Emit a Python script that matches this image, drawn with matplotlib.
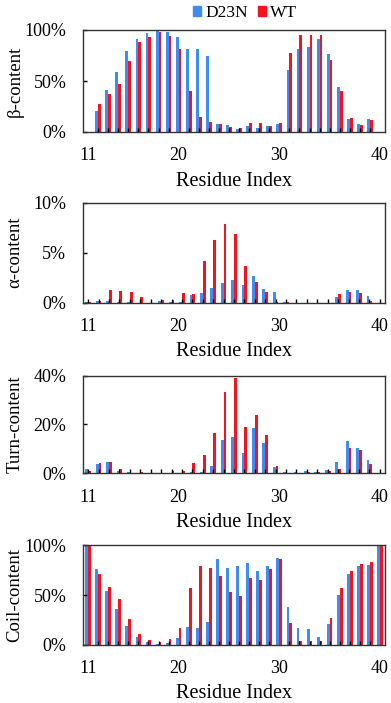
import matplotlib
matplotlib.use('Agg')
import matplotlib.pyplot as plt
import numpy as np
from matplotlib.patches import Patch

plt.rcParams['font.family'] = ['Liberation Serif', 'DejaVu Serif']

# residues 11-40 (beta, coil)
residues = list(range(11, 41))
beta_d23n = [0, 21, 41, 59, 79, 91, 97, 99, 98, 93, 81, 81, 75, 8, 7, 3, 6, 4, 6, 8,
             61, 81, 83, 91, 76, 44, 13, 8, 13, 0]
beta_wt = [0, 27, 37, 47, 70, 88, 93, 98, 94, 81, 40, 15, 10, 8, 5, 4, 9, 9, 6, 9,
           77, 95, 95, 95, 71, 40, 14, 7, 12, 0]
coil_d23n = [100, 75.8, 53.7, 35.6, 19.1, 7.4, 2.3, 0.3, 2.0, 6.4, 17.8, 16.4, 22.5, 86.6, 77.2,
             78.9, 82.6, 74.2, 79.2, 87.6, 37.6, 17.1, 15.8, 7.4, 21.1, 50.3, 71.5, 79.2, 80.5, 100]
coil_wt = [100, 70.8, 57.7, 46.3, 25.5, 10.4, 5.0, 2.7, 5.4, 16.8, 56.7, 79.2, 77.5, 68.8, 53.0,
           49.0, 67.1, 64.8, 75.8, 86.6, 22.1, 3.4, 3.4, 3.4, 26.8, 57.0, 74.2, 81.5, 83.2, 100]

# residues 12-40 (alpha, turn) - one residue fewer on these charts
residues_short = list(range(12, 41))
alpha_d23n = [0.07, 0.17, 0.17, 0.1, 0.07, 0, 0, 0.2, 0.1, 0.07, 0.77, 0.97, 1.44, 1.91, 2.28,
              1.78, 2.68, 1.34, 1.1, 0.05, 0, 0, 0, 0, 0.57, 1.28, 1.28, 0.7, 0]
alpha_wt = [0.03, 0.17, 1.28, 1.2, 1.04, 0.54, 0, 0.3, 0.3, 0.94, 0.84, 4.16, 6.24, 7.92, 6.85,
            3.62, 2.11, 1.07, 0.07, 0.1, 0, 0, 0, 0, 0.84, 1.07, 1.0, 0.17, 0]
turn_d23n = [1.76, 3.66, 4.47, 1.08, 0.5, 0.2, 0, 0, 0.1, 0.2, 0.4, 0.68, 2.85, 13.6, 14.9,
             8.5, 18.7, 12.5, 2.7, 0.68, 0.68, 0.95, 0.68, 1.2, 4.7, 13.3, 10.4, 5.4, 0]
turn_wt = [1.08, 4.34, 4.75, 1.9, 0.3, 0.68, 0, 0, 0.9, 1.0, 4.07, 7.46, 16.5, 33.2, 38.9,
           19.0, 23.7, 15.6, 3.0, 0, 0.27, 0.4, 0.68, 0.95, 1.8, 10.2, 9.5, 3.9, 0]

xtick_labels = ['11', '20', '30', '40']
xtick_slots = [0, 9, 19, 29]  # slots on the 30-residue axis

blue = '#3d8ef0'
red = '#f2141e'

W, H = 391, 703
fig = plt.figure(figsize=(W / 100, H / 100), dpi=100)

# (top, bottom) of each plot area in pixels
boxes = [(30, 132), (203, 302.5), (375.7, 473.3), (545.3, 644.7)]
left, right = 83, 385

panels = [
    (beta_d23n, beta_wt, 100, [0, 50, 100], u'\u03b2-content'),
    (alpha_d23n, alpha_wt, 10, [0, 5, 10], u'\u03b1-content'),
    (turn_d23n, turn_wt, 40, [0, 20, 40], 'Turn-content'),
    (coil_d23n, coil_wt, 100, [0, 50, 100], 'Coil-content'),
]

for (top, bot), (d23n, wt, ymax, yt, ylab) in zip(boxes, panels):
    ax = fig.add_axes([left / W, 1 - bot / H, (right - left) / W, (bot - top) / H])
    n = len(d23n)
    x = np.arange(n)
    bw = 0.28 * n / 30
    ax.bar(x - bw / 2, d23n, bw, color=blue, linewidth=0)
    ax.bar(x + bw / 2, wt, bw, color=red, linewidth=0)
    ax.set_xlim(-0.5, n - 0.5)
    ax.set_ylim(0, ymax)

    # labels sit at the same pixel spots on every panel
    pos = [(k + 0.5) * n / 30 - 0.5 for k in xtick_slots]
    ax.set_xticks(pos)
    ax.set_xticklabels(xtick_labels, fontsize=13)
    ax.set_xticks(x, minor=True)
    ax.tick_params(axis='x', which='major', length=0, pad=11)
    ax.tick_params(axis='x', which='minor', direction='in', length=3, width=1, color='black')

    ax.set_yticks(yt)
    ax.set_yticklabels(['%d%%' % v for v in yt], fontsize=13)
    ax.tick_params(axis='y', direction='in', length=3, width=1, pad=12)

    for s in ax.spines.values():
        s.set_color('#333333')
        s.set_linewidth(1)

    fig.text(15 / W, 1 - (top + bot) / 2 / H, ylab, rotation=90, ha='center', va='center',
             fontsize=13.5)
    fig.text((left + right) / 2 / W, 1 - (bot + 49) / H, 'Residue Index', ha='center',
             va='center', fontsize=14.5)

handles = [Patch(color=blue), Patch(color=red)]
fig.legend(handles, ['D23N', 'WT'], loc='center', bbox_to_anchor=(245 / W, 1 - 13 / H), ncol=2,
           frameon=False, fontsize=12.5, handlelength=0.45, handleheight=0.5,
           handletextpad=0.25, columnspacing=0.6, borderpad=0)

fig.savefig('out.png', dpi=100)
